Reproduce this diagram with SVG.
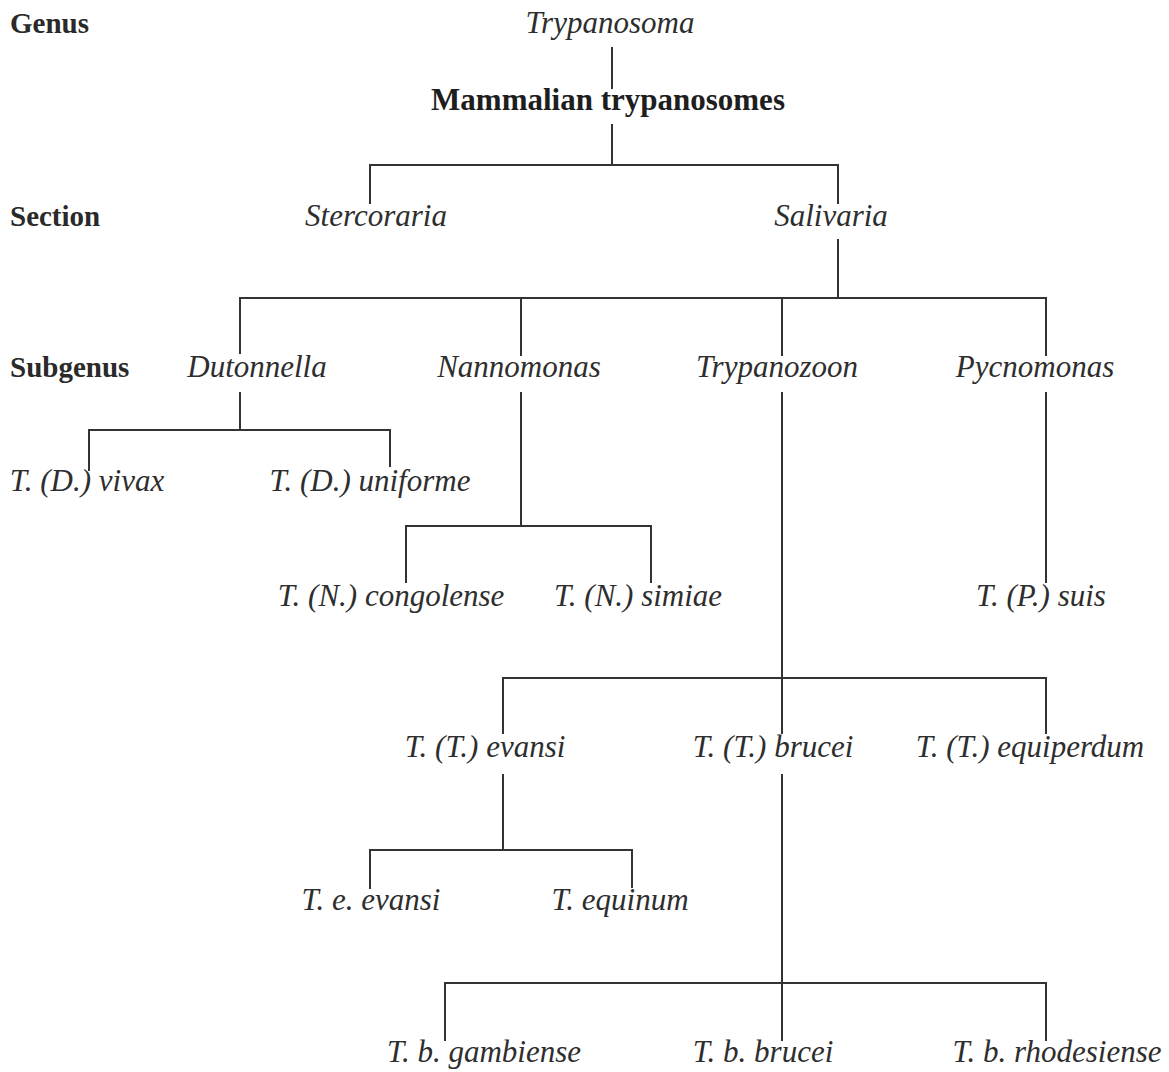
<svg xmlns="http://www.w3.org/2000/svg" width="1169" height="1072" viewBox="0 0 1169 1072">
<style>
.lbl{font-family:"Liberation Serif","Times New Roman",serif;font-weight:bold;font-size:29px;fill:#2a2a2a}
.bold{font-family:"Liberation Serif","Times New Roman",serif;font-weight:bold;font-size:31px;fill:#1e1e1e;text-anchor:middle}
.it{font-family:"Liberation Serif","Times New Roman",serif;font-style:italic;font-size:31px;fill:#2e2e2e;text-anchor:middle}
.ln{stroke:#333;stroke-width:2;fill:none;stroke-linecap:square}
</style>
<rect width="1169" height="1072" fill="#ffffff"/>
<g id="rank-labels">
<text class="lbl" x="10" y="33">Genus</text>
<text class="lbl" x="10" y="226">Section</text>
<text class="lbl" x="10" y="377">Subgenus</text>
</g>
<g id="connectors">
<path class="ln" d="M612,48V88 M612,125V165 M370,165H838 M370,165V203 M838,165V203"/>
<path class="ln" d="M838,240V298 M240,298H1046 M240,298V353 M521,298V355 M782,298V355 M1046,298V355"/>
<path class="ln" d="M240,393V430 M89,430H390 M89,430V470 M390,430V466"/>
<path class="ln" d="M521,393V526 M406,526H651 M406,526V582 M651,526V582 M1046,393V582"/>
<path class="ln" d="M782,393V733 M503,678H1046 M503,678V733 M1046,678V733"/>
<path class="ln" d="M503,775V850 M370,850H632 M370,850V888 M632,850V887"/>
<path class="ln" d="M782,775V1040 M445,983H1046 M445,983V1040 M1046,983V1040"/>
</g>
<g id="n-trypanosoma"><text class="it" x="610" y="33">Trypanosoma</text></g>
<g id="n-mammalian"><text class="bold" x="608" y="110">Mammalian trypanosomes</text></g>
<g id="n-stercoraria"><text class="it" x="376" y="226">Stercoraria</text></g>
<g id="n-salivaria"><text class="it" x="831" y="226">Salivaria</text></g>
<g id="n-dutonnella"><text class="it" x="257" y="377">Dutonnella</text></g>
<g id="n-nannomonas"><text class="it" x="519" y="377">Nannomonas</text></g>
<g id="n-trypanozoon"><text class="it" x="777" y="377">Trypanozoon</text></g>
<g id="n-pycnomonas"><text class="it" x="1035" y="377">Pycnomonas</text></g>
<g id="n-vivax"><text class="it" x="87" y="491">T. (D.) vivax</text></g>
<g id="n-uniforme"><text class="it" x="370" y="491">T. (D.) uniforme</text></g>
<g id="n-congolense"><text class="it" x="391" y="606">T. (N.) congolense</text></g>
<g id="n-simiae"><text class="it" x="638" y="606">T. (N.) simiae</text></g>
<g id="n-suis"><text class="it" x="1041" y="606">T. (P.) suis</text></g>
<g id="n-evansi"><text class="it" x="485" y="757">T. (T.) evansi</text></g>
<g id="n-brucei"><text class="it" x="773" y="757">T. (T.) brucei</text></g>
<g id="n-equiperdum"><text class="it" x="1030" y="757">T. (T.) equiperdum</text></g>
<g id="n-e-evansi"><text class="it" x="371" y="910">T. e. evansi</text></g>
<g id="n-equinum"><text class="it" x="620" y="910">T. equinum</text></g>
<g id="n-gambiense"><text class="it" x="484" y="1062">T. b. gambiense</text></g>
<g id="n-b-brucei"><text class="it" x="763" y="1062">T. b. brucei</text></g>
<g id="n-rhodesiense"><text class="it" x="1057" y="1062">T. b. rhodesiense</text></g>
</svg>
